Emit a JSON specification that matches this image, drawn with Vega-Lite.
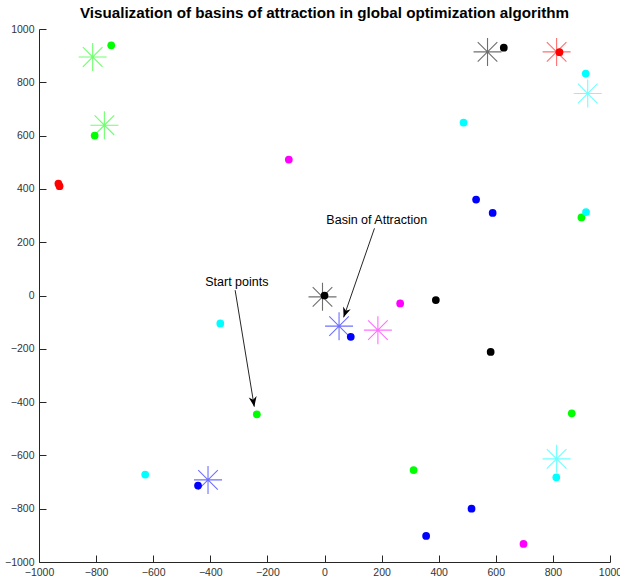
{
  "$schema": "https://vega.github.io/schema/vega-lite/v6.json",
  "autosize": "none",
  "width": 571,
  "height": 533,
  "padding": {"left": 39, "top": 29, "right": 10, "bottom": 23},
  "background": "white",
  "config": {"view": {"stroke": null}, "font": "Liberation Sans"},
  "title": {"text": "Visualization of basins of attraction in global optimization algorithm", "fontSize": 15.2, "fontWeight": "bold", "font": "Liberation Sans", "color": "#000000", "offset": 3, "anchor": "middle"},
  "datasets": {
    "dots": [
      {"x": -747, "y": 939, "c": "green"},
      {"x": -805, "y": 600, "c": "green"},
      {"x": -237, "y": -446, "c": "green"},
      {"x": 312, "y": -655, "c": "green"},
      {"x": 866, "y": -442, "c": "green"},
      {"x": 900, "y": 293, "c": "green"},
      {"x": -932, "y": 420, "c": "red"},
      {"x": -928, "y": 410, "c": "red"},
      {"x": 823, "y": 913, "c": "red"},
      {"x": -125, "y": 510, "c": "magenta"},
      {"x": 265, "y": -30, "c": "magenta"},
      {"x": 697, "y": -932, "c": "magenta"},
      {"x": 487, "y": 649, "c": "cyan"},
      {"x": 915, "y": 833, "c": "cyan"},
      {"x": 916, "y": 313, "c": "cyan"},
      {"x": -365, "y": -105, "c": "cyan"},
      {"x": -628, "y": -672, "c": "cyan"},
      {"x": 812, "y": -682, "c": "cyan"},
      {"x": 531, "y": 360, "c": "blue"},
      {"x": 589, "y": 310, "c": "blue"},
      {"x": 92, "y": -155, "c": "blue"},
      {"x": -443, "y": -713, "c": "blue"},
      {"x": 515, "y": -800, "c": "blue"},
      {"x": 356, "y": -902, "c": "blue"},
      {"x": 628, "y": 930, "c": "black"},
      {"x": 0, "y": 0, "c": "black"},
      {"x": 390, "y": -17, "c": "black"},
      {"x": 582, "y": -212, "c": "black"}
    ],
    "stars": [
      {"x": -812, "y": 895, "c": "green"},
      {"x": -771, "y": 639, "c": "green"},
      {"x": 571, "y": 914, "c": "black"},
      {"x": 813, "y": 914, "c": "red"},
      {"x": 922, "y": 758, "c": "cyan"},
      {"x": -7, "y": -5, "c": "black"},
      {"x": 51, "y": -115, "c": "blue"},
      {"x": 187, "y": -130, "c": "magenta"},
      {"x": 813, "y": -613, "c": "cyan"},
      {"x": -408, "y": -692, "c": "blue"}
    ],
    "notes": [
      {"label": "Basin of Attraction", "x": 183, "y": 285},
      {"label": "Start points", "x": -307, "y": 51}
    ],
    "arrowBasin": [{"x": 175, "y": 252, "x2": 67, "y2": -82}],
    "arrowStart": [{"x": -313, "y": 20, "x2": -246, "y2": -417}]
  },
  "encoding": {
    "x": {"field": "x", "type": "quantitative",
      "scale": {"domain": [-1000, 1000], "nice": false, "zero": false},
      "axis": {"title": null, "values": [-1000, -800, -600, -400, -200, 0, 200, 400, 600, 800, 1000], "format": "d", "grid": false,
        "tickSize": -7, "tickWidth": 1, "labelPadding": 12, "domainColor": "#262626", "tickColor": "#262626", "labelColor": "#333333",
        "labelFontSize": 10.5, "labelFont": "Liberation Sans", "labelFlush": false, "labelOverlap": false}},
    "y": {"field": "y", "type": "quantitative",
      "scale": {"domain": [-1000, 1000], "nice": false, "zero": false},
      "axis": {"title": null, "values": [-1000, -800, -600, -400, -200, 0, 200, 400, 600, 800, 1000], "format": "d", "grid": false,
        "tickSize": -7, "tickWidth": 1, "labelPadding": 12, "domainColor": "#262626", "tickColor": "#262626", "labelColor": "#333333",
        "labelFontSize": 10.5, "labelFont": "Liberation Sans", "labelFlush": false, "labelOverlap": false}}
  },
  "layer": [
    {
      "data": {"name": "stars"},
      "mark": {"type": "point", "shape": "M-1,0L1,0M0,-1L0,1M-0.7,-0.7L0.7,0.7M-0.7,0.7L0.7,-0.7", "filled": false, "size": 784, "strokeWidth": 1.1, "strokeOpacity": 0.8},
      "encoding": {
        "color": {"field": "c", "type": "nominal", "scale": {"domain": ["green", "red", "magenta", "cyan", "blue", "black"], "range": ["#00FF00", "#FF0000", "#FF00FF", "#00FFFF", "#0000FF", "#000000"]}, "legend": null}
      }
    },
    {
      "data": {"name": "dots"},
      "mark": {"type": "point", "shape": "circle", "filled": true, "size": 60, "opacity": 1},
      "encoding": {
        "color": {"field": "c", "type": "nominal", "scale": {"domain": ["green", "red", "magenta", "cyan", "blue", "black"], "range": ["#00FF00", "#FF0000", "#FF00FF", "#00FFFF", "#0000FF", "#000000"]}, "legend": null}
      }
    },
    {
      "data": {"name": "arrowBasin"},
      "mark": {"type": "rule", "color": "#262626", "strokeWidth": 1},
      "encoding": {"x2": {"field": "x2"}, "y2": {"field": "y2"}}
    },
    {
      "data": {"name": "arrowBasin"},
      "mark": {"type": "point", "shape": "M0,0L-0.4,-1L0,-0.7L0.4,-1Z", "filled": true, "size": 400, "color": "#000000", "opacity": 1, "angle": 19.2},
      "encoding": {"x": {"field": "x2", "type": "quantitative"}, "y": {"field": "y2", "type": "quantitative"}}
    },
    {
      "data": {"name": "arrowStart"},
      "mark": {"type": "rule", "color": "#262626", "strokeWidth": 1},
      "encoding": {"x2": {"field": "x2"}, "y2": {"field": "y2"}}
    },
    {
      "data": {"name": "arrowStart"},
      "mark": {"type": "point", "shape": "M0,0L-0.4,-1L0,-0.7L0.4,-1Z", "filled": true, "size": 400, "color": "#000000", "opacity": 1, "angle": -9.2},
      "encoding": {"x": {"field": "x2", "type": "quantitative"}, "y": {"field": "y2", "type": "quantitative"}}
    },
    {
      "data": {"name": "notes"},
      "mark": {"type": "text", "font": "Liberation Sans", "fontSize": 12.5, "color": "#000000", "align": "center", "baseline": "middle"},
      "encoding": {"text": {"field": "label"}}
    }
  ]
}
